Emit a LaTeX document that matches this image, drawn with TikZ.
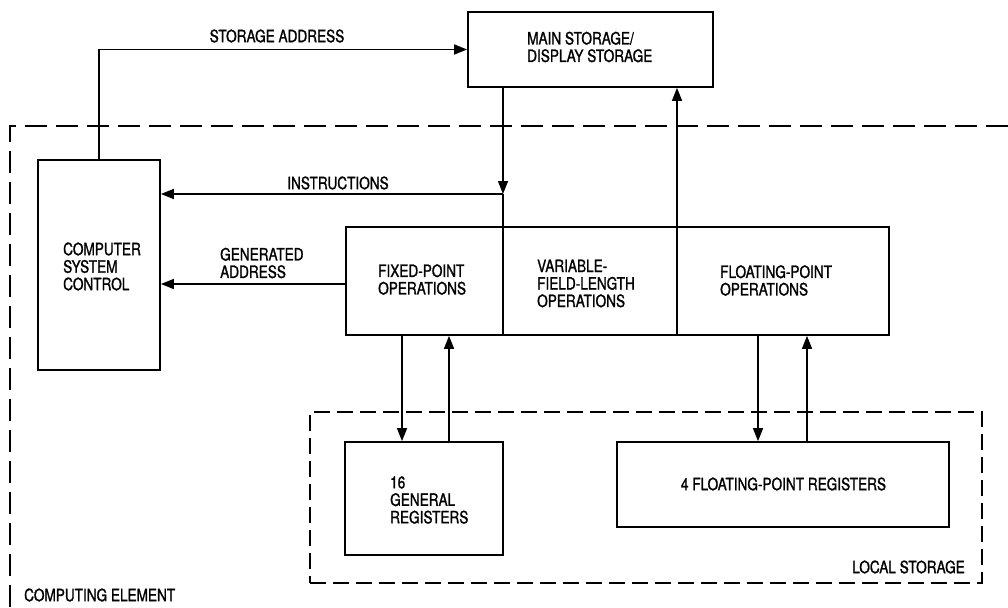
\documentclass[tikz,border=0pt]{standalone}
\usepackage{fontspec}
\setmainfont{TeX Gyre Heros}[FakeStretch=0.8, FakeBold=1.2]
\usetikzlibrary{arrows.meta}
\begin{document}
\begin{tikzpicture}[x=1pt,y=-1pt,
  box/.style={draw, line width=1.7pt, inner sep=0pt},
  lbl/.style={inner sep=0pt, align=left, font=\fontsize{17}{17.5}\selectfont},
  arr/.style={line width=1.4pt, -{Triangle[length=13pt,width=10pt]}},
  conn/.style={line width=1.4pt},
  bigdash/.style={line width=1.7pt, dash pattern=on 22pt off 9pt},
  smalldash/.style={draw, line width=1.6pt, dash pattern=on 16pt off 7pt, inner sep=0pt}]
\useasboundingbox (0,0) rectangle (1008,607);
% computing element boundary
\draw[bigdash] (1008,126) -- (10,126) -- (10,607);
% boxes
\node[box, minimum width=245pt, minimum height=75pt] (main) at (590.5,49.5) {};
\node[box, minimum width=122pt, minimum height=210pt] (csc) at (99,265) {};
\node[box, minimum width=543pt, minimum height=108pt] (ops) at (617.5,281) {};
\node[smalldash, minimum width=672pt, minimum height=171pt] (local) at (646,497.5) {};
\node[box, fill=white, minimum width=158pt, minimum height=113pt] (gr) at (424,498.5) {};
\node[box, fill=white, minimum width=332pt, minimum height=85pt] (fpr) at (783,484.5) {};
% coordinates
\coordinate (j) at (503,194);
\coordinate (d1) at (677,227);
% dividers in ops box
\draw[conn] (ops.north -| j) -- (ops.south -| j);
\draw[conn] (ops.north -| d1) -- (ops.south -| d1);
% connectors
\draw[arr] (csc.north) |- (main.west);
\draw[arr] (main.south -| j) -- (j);
\draw[conn] (j) -- (ops.north -| j);
\draw[arr] (j) -- (csc.east |- j);
\draw[arr] (ops.north -| d1) -- (main.south -| d1);
\draw[arr] (ops.west |- 0,284) -- (csc.east |- 0,284);
\draw[arr] (ops.south -| 402,0) -- (gr.north -| 402,0);
\draw[arr] (gr.north -| 449,0) -- (ops.south -| 449,0);
\draw[arr] (ops.south -| 758,0) -- (fpr.north -| 758,0);
\draw[arr] (fpr.north -| 807,0) -- (ops.south -| 807,0);
% labels
\node[lbl] (tsa) at (277,36) {STORAGE ADDRESS};
\node[lbl, anchor=west] (tmain) at (527,47) {MAIN STORAGE/\\DISPLAY STORAGE};
\node[lbl] (tins) at (338,183) {INSTRUCTIONS};
\node[lbl, anchor=west] (tgen) at (220,263) {GENERATED\\ADDRESS};
\node[lbl, anchor=west] (tcsc) at (63,266.5) {COMPUTER\\SYSTEM\\CONTROL};
\node[lbl, anchor=west] (tfix) at (378,279.5) {FIXED-POINT\\OPERATIONS};
\node[lbl, anchor=west] (tvar) at (537,283.5) {VARIABLE-\\FIELD-LENGTH\\OPERATIONS};
\node[lbl, anchor=west] (tflt) at (720,280.5) {FLOATING-POINT\\OPERATIONS};
\node[lbl, anchor=west] (tgr) at (390,500) {16\\GENERAL\\REGISTERS};
\node[lbl] (tfpr) at (783.5,484) {4 FLOATING-POINT REGISTERS};
\node[lbl, anchor=east] (tloc) at (965,567) {LOCAL STORAGE};
\node[lbl, anchor=west] (tce) at (24,595) {COMPUTING ELEMENT};
\end{tikzpicture}
\end{document}
